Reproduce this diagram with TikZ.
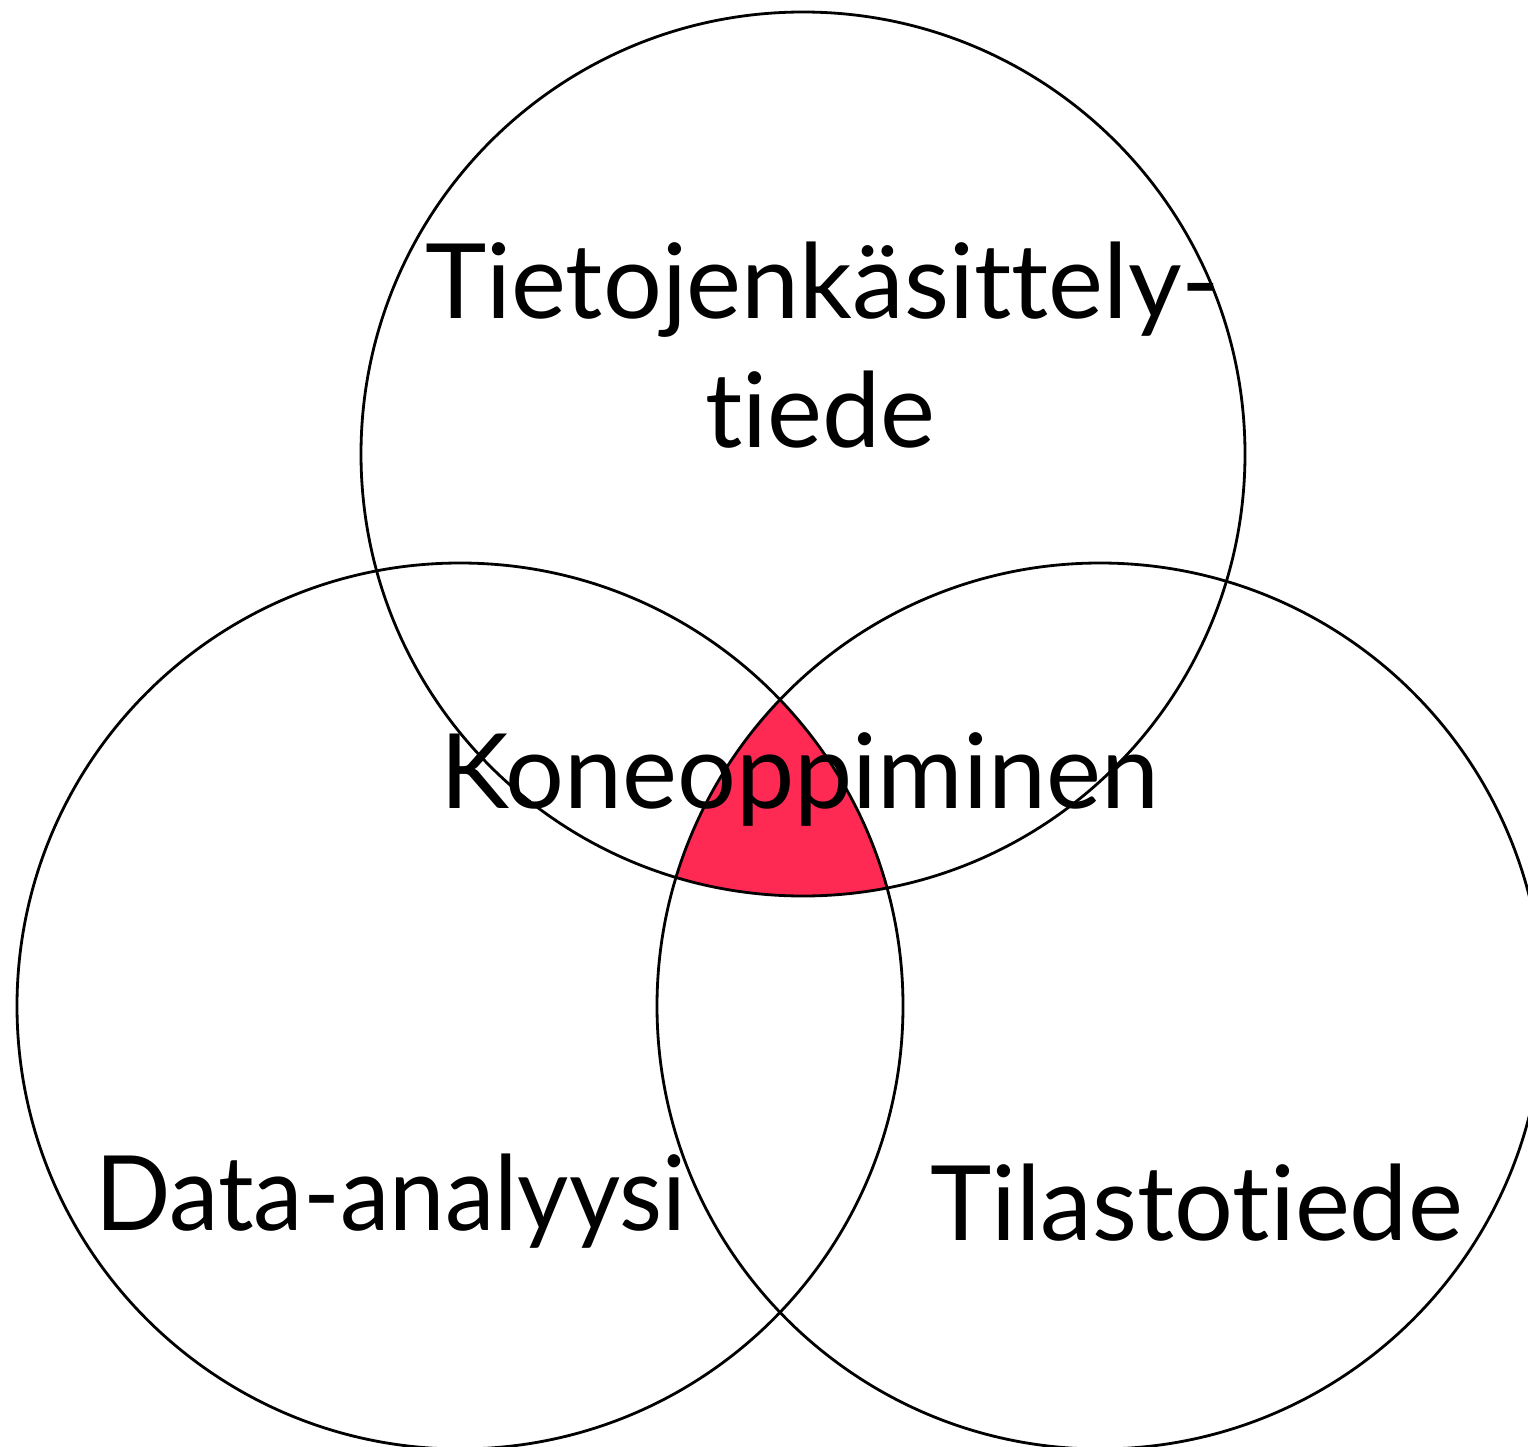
\documentclass[tikz,border=0pt]{standalone}
\usepackage{fontspec}
\usepackage{graphicx}
\setmainfont{Lato}[Ligatures={NoCommon,NoContextual}]
\definecolor{corefill}{RGB}{255,42,84}
\begin{document}
\begin{tikzpicture}[x=1pt,y=-1pt,
  ring/.style={draw=black,line width=2.8pt},
  label/.style={inner sep=0pt,anchor=base west,font=\fontsize{104}{120}\selectfont}]
\useasboundingbox (0,0) rectangle (1528,1447);
% circle centres
\coordinate (cT) at (803,454);
\coordinate (cL) at (460,1006);
\coordinate (cR) at (1100,1006);
% common region of all three sets
\begin{scope}
  \clip (cT) circle[radius=442];
  \clip (cL) circle[radius=443];
  \fill[corefill] (cR) circle[radius=443];
\end{scope}
\draw[ring] (cT) circle[radius=442];
\draw[ring] (cL) circle[radius=443];
\draw[ring] (cR) circle[radius=443];
% labels
\node[label] (t1) at (425,318) {Tietojenkäsittely-};
\node[label] (t2) at (705,447) {tiede};
\node[label] (ml) at (440,808) {Koneoppiminen};
\node[label] (da) at (95,1230) {\scalebox{0.955}[1]{Data-analyysi}};
\node[label] (st) at (930,1240) {Tilastotiede};
\end{tikzpicture}
\end{document}
